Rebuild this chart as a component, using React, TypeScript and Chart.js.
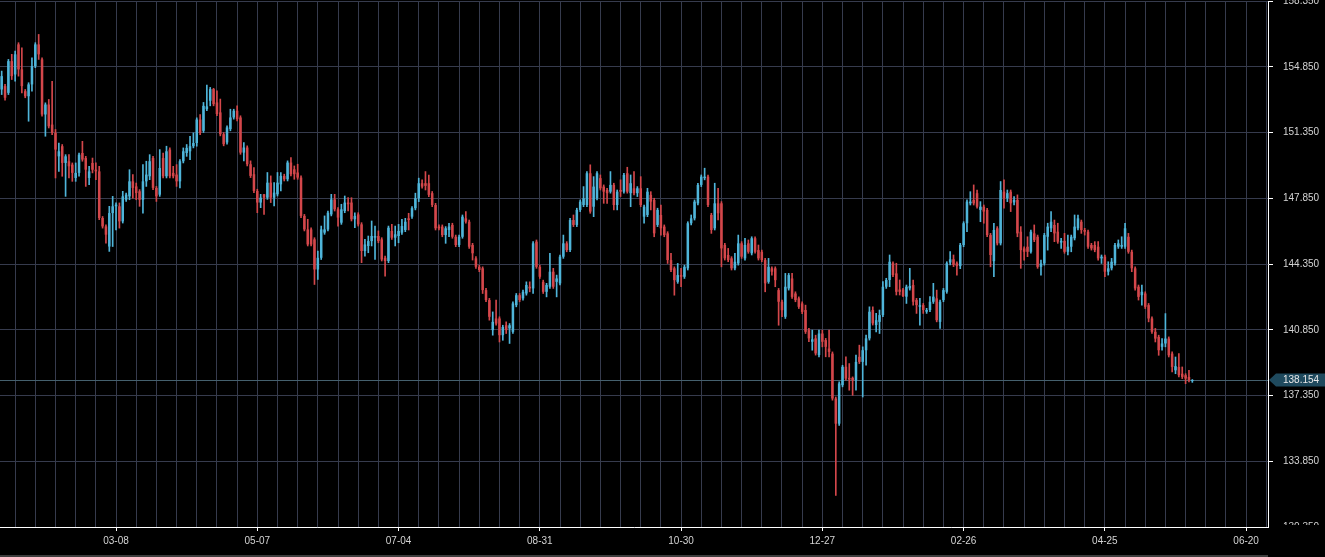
import React, { useEffect, useRef } from "react";
import { Chart, registerables } from "chart.js";

Chart.register(...registerables);

// ---- Daily candles ----
const OPEN = [
  153.64,153.82,153.46,155.15,154.44,156.04,154.71,153.55,153.28,153.91,
  154.88,156.04,155.24,152.31,152.84,151.77,151.33,150.08,150.62,149.73,
  149.82,149.64,148.93,149.20,150.26,149.99,148.93,149.73,149.37,149.28,
  146.80,146.35,145.28,147.06,147.42,147.42,146.62,147.77,147.95,148.75,
  148.48,148.22,147.77,148.75,149.02,149.99,148.40,148.04,149.99,149.02,
  150.44,149.20,149.11,148.75,149.82,150.26,150.35,150.62,150.79,152.04,
  151.44,152.59,153.04,153.66,152.95,152.42,151.26,150.82,151.53,152.15,
  152.51,152.15,150.28,150.55,149.66,149.13,148.24,147.62,148.06,147.88,
  148.68,147.88,148.06,148.59,149.04,148.86,149.75,149.39,149.22,148.95,
  146.91,146.19,146.19,145.66,144.06,144.68,146.02,146.19,146.99,147.79,
  147.26,146.55,147.17,147.62,147.62,146.73,146.99,146.46,145.04,145.31,
  145.57,145.75,145.84,145.66,144.68,144.51,146.11,145.75,145.84,146.02,
  146.16,146.78,146.87,147.32,147.85,148.65,148.65,148.65,148.12,147.49,
  146.34,146.34,145.89,146.16,146.43,145.80,145.36,145.80,146.78,146.60,
  145.36,144.65,144.20,144.12,142.96,142.43,140.83,141.45,141.45,140.56,
  141.09,140.92,140.74,142.16,142.69,142.52,142.78,143.14,143.05,145.54,
  144.20,143.40,142.87,143.14,143.94,143.40,143.32,144.74,145.45,145.09,
  146.69,146.43,147.23,147.49,147.49,149.18,147.40,147.85,
  148.92,148.47,148.29,148.20,148.56,147.49,148.29,148.20,149.18,148.12,
  148.38,148.12,148.38,146.87,146.96,148.03,147.76,146.43,146.96,146.34,
  145.98,144.56,144.12,143.40,143.76,143.67,144.12,146.52,146.78,147.58,
  148.56,148.92,149.00,146.96,146.25,147.58,147.58,145.36,144.83,144.65,
  144.12,144.38,145.45,144.65,145.45,144.92,145.72,145.09,145.00,144.56,
  143.40,144.12,144.12,142.96,142.34,141.54,143.05,143.58,142.78,142.52,142.25,
  141.90,140.83,140.21,140.39,139.50,140.65,140.30,139.85,139.58,137.19,
  135.85,137.90,138.88,138.29,138.29,138.16,139.41,139.14,139.76,140.39,
  141.90,141.10,141.27,141.63,143.14,143.50,144.39,143.85,142.99,142.99,
  142.61,143.05,143.23,142.43,142.07,142.16,141.81,141.90,142.34,142.52,
  141.27,142.43,142.87,144.43,144.60,144.39,144.24,
  145.36,146.52,147.58,147.76,148.12,147.23,147.40,147.23,145.89,144.50,
  146.25,145.45,148.20,147.85,148.20,147.63,147.76,146.07,145.18,145.27,
  145.00,145.98,145.80,144.20,144.38,145.80,146.25,146.43,146.07,145.49,
  145.58,145.00,145.27,145.72,146.25,146.60,146.16,146.07,145.36,145.36,
  145.27,144.65,144.74,143.94,144.12,144.38,145.27,145.27,145.27,145.80,
  145.00,144.12,143.14,142.69,142.78,142.16,141.45,140.74,140.47,139.94,
  140.12,140.38,139.58,138.69,138.87,138.51,138.43,138.34,138.12,
];

const HIGH = [
  154.62,153.91,155.24,155.51,155.68,156.13,155.86,153.64,154.00,155.33,
  156.13,156.57,155.33,152.93,153.11,154.08,151.51,150.79,150.71,150.17,
  150.17,149.73,149.73,150.26,150.88,150.08,149.55,149.99,149.73,149.55,
  146.88,146.44,147.42,147.95,147.60,147.60,148.22,148.13,149.37,149.11,
  148.66,148.31,149.64,149.82,150.17,150.08,148.48,150.44,150.26,150.62,
  150.53,149.55,149.64,149.91,150.53,150.71,151.15,151.33,152.13,152.31,
  152.95,153.87,153.75,153.70,153.57,153.13,151.35,151.71,152.59,152.59,
  152.77,152.24,150.82,150.64,149.84,149.48,148.33,148.06,148.06,149.22,
  149.04,148.68,149.22,149.22,149.13,149.84,150.02,149.57,149.66,149.04,
  146.99,146.73,146.28,145.75,145.04,146.37,146.91,147.17,148.06,148.06,
  147.35,147.53,147.97,147.88,147.88,147.08,147.08,146.55,145.66,145.84,
  146.64,146.37,146.11,145.75,144.77,146.37,146.46,146.37,146.46,146.73,
  146.78,147.05,147.40,148.12,148.92,148.83,149.27,149.09,148.21,147.58,
  146.43,146.43,146.34,146.52,146.52,145.89,145.89,146.96,147.14,146.69,
  145.45,144.74,144.29,144.20,143.05,142.52,141.80,142.43,141.54,141.09,
  141.27,141.18,142.34,142.78,142.78,142.96,143.40,143.40,145.54,145.63,
  144.29,143.49,143.32,144.92,144.12,143.76,144.83,145.89,145.54,146.78,
  146.96,147.32,147.76,148.47,149.27,149.63,149.00,149.27,
  149.09,148.56,148.38,149.27,148.65,148.29,148.83,149.18,149.50,149.09,
  149.27,148.47,149.00,147.49,148.38,148.20,147.85,147.32,147.49,146.43,
  146.07,144.92,144.20,144.38,144.12,144.29,146.60,146.96,147.76,148.65,
  149.09,149.45,149.09,147.05,148.65,148.38,147.67,145.45,145.18,144.74,
  144.92,145.89,145.54,145.72,145.63,145.80,145.80,145.36,145.09,144.65,
  144.65,144.20,144.20,143.05,142.43,143.85,143.85,143.85,142.87,142.60,142.34,
  142.16,140.92,140.83,140.56,140.83,140.83,140.39,140.83,139.67,137.27,
  138.08,138.96,139.41,139.05,138.34,139.50,140.03,139.94,140.56,142.07,
  142.07,141.72,141.90,143.41,143.59,144.83,144.47,144.39,143.50,143.05,
  143.23,144.12,143.50,142.52,142.52,142.25,141.99,142.61,143.32,142.96,
  142.43,143.05,144.47,145.01,144.83,144.47,145.45,
  146.60,147.76,148.20,148.56,148.29,147.67,147.49,147.32,145.98,146.52,
  146.34,148.74,148.83,148.29,148.29,147.94,148.03,146.34,145.27,145.80,
  146.16,146.43,145.89,144.56,145.98,146.52,147.14,146.69,146.52,145.72,
  145.98,145.89,145.89,146.96,146.96,146.69,146.25,146.16,145.45,145.54,
  145.54,144.83,144.83,144.47,144.65,145.45,145.63,145.80,146.52,145.98,
  145.09,144.20,143.23,143.23,142.87,142.25,141.54,140.92,140.56,140.38,
  141.71,140.47,139.67,139.40,139.58,138.87,138.51,138.69,138.20,
];

const LOW = [
  153.37,153.07,153.37,154.17,154.08,154.35,153.46,153.20,151.95,153.55,
  154.80,155.24,152.22,151.15,151.59,151.24,148.93,149.28,149.02,147.95,
  148.93,148.75,148.75,149.02,149.82,148.48,148.57,149.20,148.84,146.71,
  146.26,145.46,145.02,145.28,146.17,146.26,146.53,147.68,147.77,147.86,
  147.77,147.42,147.06,148.48,148.84,148.31,147.68,147.95,148.93,148.93,
  148.93,148.93,148.48,148.40,149.73,150.08,149.91,150.53,150.62,151.24,
  151.35,152.51,152.77,152.77,152.24,151.17,150.64,150.73,151.44,152.06,
  151.97,150.19,149.84,149.57,148.95,148.15,147.08,147.35,146.99,147.79,
  147.62,147.44,147.97,148.24,148.77,148.77,149.04,148.86,148.86,146.82,
  146.11,145.31,145.31,143.26,143.53,144.59,145.93,146.11,146.91,147.17,
  146.37,146.46,147.08,147.17,146.64,146.28,146.37,144.42,144.77,144.95,
  145.31,144.59,145.48,144.51,143.70,144.42,145.66,145.31,145.48,145.93,
  146.07,146.16,146.78,147.23,147.67,148.38,148.29,147.94,147.40,146.16,
  146.16,145.80,145.45,145.80,145.72,145.27,145.27,145.72,146.52,145.18,
  144.56,144.12,143.94,142.78,142.34,141.36,140.56,141.09,140.20,140.29,
  140.65,140.12,140.65,142.07,142.34,142.43,142.69,142.87,142.78,144.12,
  143.58,142.78,142.60,143.05,143.05,142.60,143.23,144.65,145.00,145.00,
  146.34,146.34,147.14,147.40,147.40,147.05,146.87,147.76,
  148.29,147.58,147.58,148.12,147.23,147.23,147.94,148.12,148.12,147.40,
  148.03,147.94,147.40,146.52,146.87,147.23,145.80,146.34,145.89,145.80,
  144.38,143.94,142.69,143.32,143.14,143.58,144.03,146.43,146.69,147.49,
  148.47,148.83,147.40,145.98,146.16,146.69,144.20,144.56,144.47,144.03,
  144.03,144.29,144.65,144.56,144.92,144.83,144.92,144.56,144.47,142.87,
  143.32,143.76,143.14,141.09,141.54,141.45,142.96,142.52,142.34,141.98,141.71,
  140.65,140.21,139.76,139.50,139.41,139.94,139.41,139.41,137.10,132.03,
  135.76,137.81,138.16,137.63,137.36,137.63,139.05,137.27,138.96,140.30,
  141.10,140.74,140.65,141.54,143.05,143.14,143.67,142.70,142.70,142.61,
  142.25,142.96,142.16,141.72,141.10,141.72,141.72,141.81,142.25,141.27,
  140.92,142.34,142.79,144.30,144.21,143.76,144.10,
  145.27,146.07,147.49,147.49,147.32,146.60,146.52,145.80,144.20,143.67,
  145.36,145.36,147.32,147.67,147.14,147.49,145.80,144.12,144.56,144.74,
  144.92,145.54,144.12,143.76,144.29,145.09,146.07,145.54,145.45,145.18,
  144.92,144.83,145.00,145.63,146.16,145.98,145.89,145.18,145.09,145.00,
  144.56,144.38,143.67,143.76,144.03,144.29,145.18,145.18,145.18,144.92,
  143.94,142.96,142.43,142.16,141.98,141.27,140.65,140.20,139.49,139.76,
  139.94,139.40,138.60,138.51,138.34,138.25,137.98,138.07,138.05,
];

const CLOSE = [
  154.35,153.20,155.15,154.35,155.51,154.71,153.82,153.28,153.91,154.88,
  156.04,155.51,152.31,152.84,151.68,151.33,150.44,150.35,149.73,150.08,
  149.55,149.20,149.20,150.17,149.91,149.37,149.28,149.37,149.28,146.80,
  146.35,145.91,147.06,147.42,147.51,146.62,147.95,148.04,148.75,148.40,
  148.13,147.77,148.75,149.11,149.82,148.40,147.95,149.46,149.02,150.35,
  149.02,149.02,148.75,149.82,150.35,150.53,150.62,150.79,152.04,151.33,
  152.77,152.74,153.66,152.86,152.33,151.26,150.73,151.62,152.15,152.51,
  152.06,150.28,150.55,149.66,149.04,148.24,147.62,147.88,147.88,148.68,
  147.88,148.15,148.68,149.04,148.86,149.75,149.13,149.13,148.95,146.91,
  146.19,145.39,145.39,144.06,144.68,146.19,146.19,147.08,147.79,147.26,
  146.82,147.26,147.62,147.53,146.73,146.91,146.46,145.04,145.39,145.57,
  145.84,145.84,145.57,144.59,144.51,146.28,145.75,145.93,146.11,146.37,
  146.60,146.69,147.32,147.85,148.65,148.47,148.51,148.03,147.49,146.25,
  146.25,145.89,146.25,146.34,145.80,145.36,145.80,146.87,146.60,145.27,
  144.92,144.20,144.03,142.96,142.43,141.54,141.27,141.18,140.56,141.00,
  140.83,141.09,142.25,142.69,142.43,142.87,143.23,143.05,145.45,144.20,
  143.67,142.87,143.23,143.94,143.14,143.58,144.74,145.45,145.09,146.69,
  146.43,147.23,147.67,147.85,149.18,147.14,148.47,149.18,
  148.38,148.20,148.12,148.56,147.49,148.20,148.20,149.09,148.20,148.65,
  148.12,148.38,147.49,147.40,148.20,147.67,145.98,147.23,146.25,145.89,
  144.56,144.03,143.49,143.76,143.67,144.20,146.52,146.78,147.67,148.56,
  149.00,149.00,147.49,146.16,147.58,147.05,145.18,144.65,144.56,144.12,
  144.47,145.45,144.74,145.36,145.00,145.72,145.00,144.65,144.56,143.32,
  144.20,143.94,143.49,142.34,141.89,143.14,143.76,142.60,142.43,142.07,141.80,
  140.74,140.39,140.34,139.59,140.65,140.21,139.94,139.67,137.19,135.85,
  137.99,138.88,138.25,138.20,138.16,139.14,139.14,139.76,140.39,141.81,
  141.19,141.36,141.63,143.14,143.50,144.47,143.76,142.87,142.87,142.64,
  143.14,143.18,142.34,142.16,142.16,141.90,141.90,142.34,142.61,141.36,
  142.34,142.96,144.39,144.60,144.30,144.24,145.36,
  146.52,147.67,147.67,147.58,147.40,147.40,147.14,145.89,144.83,146.16,
  145.45,148.29,147.85,148.12,147.58,147.76,145.98,145.09,145.00,145.00,
  146.07,145.63,144.20,144.38,145.89,146.34,146.60,145.98,145.54,145.58,
  145.00,145.27,145.80,146.34,146.78,146.16,146.07,145.27,145.18,145.09,
  144.65,144.74,143.94,144.12,144.47,145.36,145.45,145.36,146.25,145.00,
  144.12,143.05,142.60,142.87,142.07,141.45,140.74,140.38,139.76,140.12,
  140.38,139.49,138.87,138.91,138.43,138.34,138.25,138.16,138.154,
];

// ---- Axis definitions ----
const SLOT_COUNT = 377; // trading-day slots on the time axis (incl. empty future slots)
const X_TICK_LABELS = ["03-08", "05-07", "07-04", "08-31", "10-30", "12-27", "02-26", "04-25", "06-20"];
const X_TICK_FIRST = 34;
const X_TICK_EVERY = 42;
const X_GRID_EVERY = 6;
const Y_TICKS = [130.35, 133.85, 137.35, 140.85, 144.35, 147.85, 151.35, 154.85, 158.35];
const Y_MIN = 130.35;
const Y_MAX = 158.35;
const LAST_PRICE = CLOSE[CLOSE.length - 1];

const UP_COLOR = "#4fb5da";
const DOWN_COLOR = "#d4474b";
const GRID_COLOR = "#363b4d";
const AXIS_TEXT = "#d4d4d4";
const FONT_FAMILY = "'Liberation Sans', Arial, Helvetica, sans-serif";

export default function App() {
  const canvasRef = useRef<HTMLCanvasElement | null>(null);

  useEffect(() => {
    document.body.style.margin = "0";
    document.body.style.background = "#000";
    const canvas = canvasRef.current;
    if (!canvas) return;

    const categories = Array.from({ length: SLOT_COUNT }, (_, i) => String(i));
    const colors = CLOSE.map((c, i) => (c >= OPEN[i] ? UP_COLOR : DOWN_COLOR));
    const bodies = CLOSE.map((c, i) => [OPEN[i], c]);
    const wicks = HIGH.map((h, i) => [LOW[i], h]);

    const lastPricePlugin = {
      id: "lastPrice",
      beforeDatasetsDraw(chart: any) {
        const { ctx, chartArea, scales } = chart;
        const y = Math.round(scales.y.getPixelForValue(LAST_PRICE)) + 0.5;
        ctx.save();
        ctx.strokeStyle = "#45606e";
        ctx.lineWidth = 1;
        ctx.beginPath();
        ctx.moveTo(chartArea.left, y);
        ctx.lineTo(chartArea.right, y);
        ctx.stroke();
        ctx.restore();
      },
      afterDraw(chart: any) {
        const { ctx, chartArea, scales, width, height } = chart;
        ctx.save();
        // the bottom price label is mostly cut off in the reference
        ctx.fillStyle = "#000";
        ctx.fillRect(chartArea.right + 1, chartArea.bottom - 2, width - chartArea.right, height - chartArea.bottom + 2);
        // bottom separator line
        ctx.fillStyle = "#3d3d3d";
        ctx.fillRect(0, height - 2, chartArea.right, 2);
        // last price tag
        const y = Math.round(scales.y.getPixelForValue(LAST_PRICE));
        const x0 = chartArea.right + 1;
        ctx.fillStyle = "#1f4a5e";
        ctx.beginPath();
        ctx.moveTo(x0, y);
        ctx.lineTo(x0 + 7, y - 6.5);
        ctx.lineTo(width, y - 6.5);
        ctx.lineTo(width, y + 6.5);
        ctx.lineTo(x0 + 7, y + 6.5);
        ctx.closePath();
        ctx.fill();
        ctx.fillStyle = "#e8e8e8";
        ctx.font = `10px ${FONT_FAMILY}`;
        ctx.textAlign = "left";
        ctx.textBaseline = "middle";
        ctx.fillText(LAST_PRICE.toFixed(3), chartArea.right + 15, y + 0.5);
        ctx.restore();
      },
    };

    const chart = new Chart(canvas, {
      type: "bar",
      data: {
        labels: categories,
        datasets: [
          {
            label: "body",
            data: bodies as any,
            backgroundColor: colors,
            grouped: false,
            categoryPercentage: 1,
            barPercentage: 0.75,
            minBarLength: 1,
            borderWidth: 0,
          } as any,
          {
            label: "wick",
            data: wicks as any,
            backgroundColor: colors,
            grouped: false,
            barThickness: 1,
            borderWidth: 0,
          } as any,
        ],
      },
      options: {
        responsive: false,
        maintainAspectRatio: false,
        animation: false,
        devicePixelRatio: 1,
        events: [],
        layout: { padding: { top: 1, left: 0, right: 0, bottom: 0 } },
        plugins: {
          legend: { display: false },
          tooltip: { enabled: false },
        },
        scales: {
          x: {
            type: "category",
            offset: true,
            grid: {
              offset: false,
              lineWidth: 1,
              color: (ctx: any) => (ctx.index % X_GRID_EVERY === X_TICK_FIRST % X_GRID_EVERY ? GRID_COLOR : "rgba(0,0,0,0)"),
              tickColor: (ctx: any) =>
                ctx.index >= X_TICK_FIRST && (ctx.index - X_TICK_FIRST) % X_TICK_EVERY === 0 ? "#ffffff" : "rgba(0,0,0,0)",
              drawTicks: true,
              tickLength: 4,
            },
            border: { color: "#ffffff", width: 1 },
            ticks: {
              autoSkip: false,
              maxRotation: 0,
              minRotation: 0,
              color: AXIS_TEXT,
              padding: 4,
              font: { family: FONT_FAMILY, size: 10 },
              callback: (_v: any, index: number) => {
                if (index < X_TICK_FIRST || (index - X_TICK_FIRST) % X_TICK_EVERY !== 0) return "";
                return X_TICK_LABELS[(index - X_TICK_FIRST) / X_TICK_EVERY] ?? "";
              },
            },
            afterFit: (scale: any) => {
              scale.height = 30;
              scale.paddingLeft = 0;
              scale.paddingRight = 0;
            },
          },
          y: {
            type: "linear",
            position: "right",
            min: Y_MIN,
            max: Y_MAX,
            afterBuildTicks: (scale: any) => {
              scale.ticks = Y_TICKS.map((v) => ({ value: v }));
            },
            grid: {
              color: GRID_COLOR,
              lineWidth: 1,
              tickColor: "#ffffff",
              drawTicks: true,
              tickLength: 5,
            },
            border: { color: "#ffffff", width: 1 },
            ticks: {
              color: AXIS_TEXT,
              padding: 10,
              font: { family: FONT_FAMILY, size: 10 },
              callback: (v: any) => Number(v).toFixed(3),
            },
            afterFit: (scale: any) => {
              scale.width = 57;
              scale.paddingTop = 0;
              scale.paddingBottom = 0;
            },
          },
        },
      } as any,
      plugins: [lastPricePlugin],
    });

    return () => {
      chart.destroy();
    };
  }, []);

  return (
    <div style={{ width: 1325, height: 557, background: "#000", overflow: "hidden" }}>
      <canvas ref={canvasRef} width={1325} height={557} style={{ display: "block", width: 1325, height: 557 }} />
    </div>
  );
}
